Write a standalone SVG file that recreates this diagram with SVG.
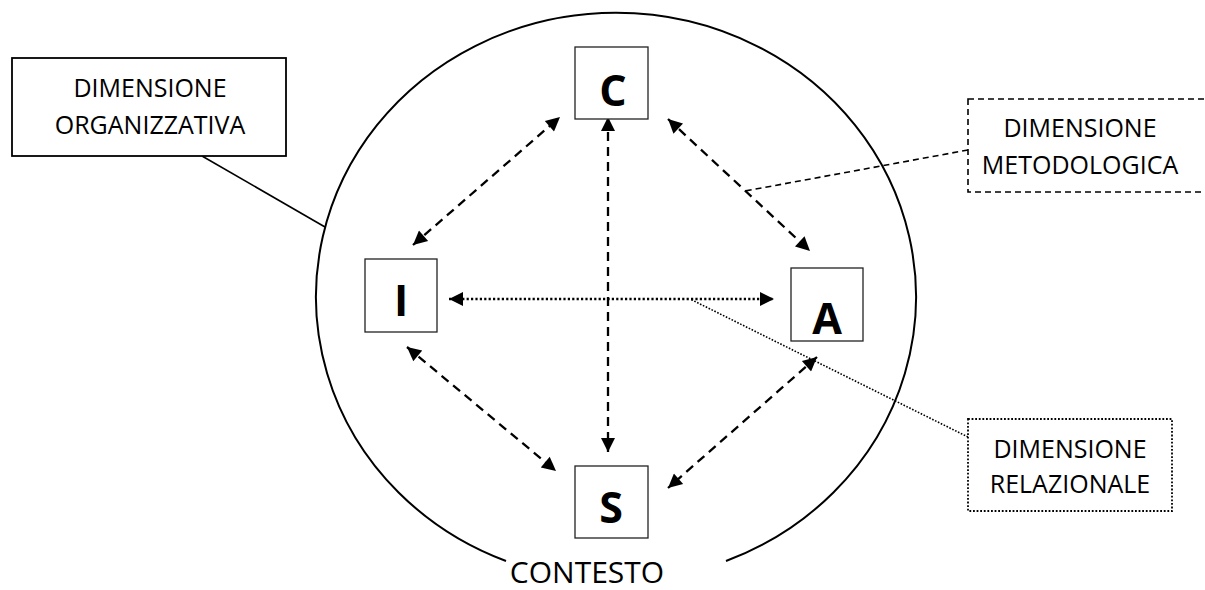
<svg xmlns="http://www.w3.org/2000/svg" width="1205" height="590" viewBox="0 0 1205 590">
<defs>
<marker id="ah" viewBox="0 0 10 10" refX="10" refY="5" markerUnits="userSpaceOnUse" markerWidth="16" markerHeight="14" orient="auto-start-reverse">
<path d="M0,0 L10,5 L0,10 z" fill="#000"/>
</marker>
<style>
.node rect{fill:#fff;stroke:#222;stroke-width:1.3}
.node text{font-family:"Open Sans","Noto Sans",sans-serif;font-weight:bold;font-size:43px;text-anchor:middle;fill:#000}
.lbl text{font-family:"Open Sans","Noto Sans",sans-serif;font-size:25px;text-anchor:middle;fill:#000}
.dash{stroke:#000;stroke-width:2.3;stroke-dasharray:9 6;fill:none}
.dot{stroke:#000;stroke-width:2.6;stroke-dasharray:2.2 2.2;fill:none}
</style>
</defs>
<rect width="1205" height="590" fill="#fff"/>
<g id="context">
<path d="M 726 561 A 300 284 0 1 0 506 561" fill="none" stroke="#000" stroke-width="2"/>
<text x="587" y="583" font-family="'Open Sans','Noto Sans',sans-serif" font-size="30" text-anchor="middle">CONTESTO</text>
</g>
<g id="connectors">
<line class="dash" x1="413" y1="245" x2="560" y2="117" marker-start="url(#ah)" marker-end="url(#ah)"/>
<line class="dash" x1="608" y1="117" x2="608" y2="452" marker-start="url(#ah)" marker-end="url(#ah)"/>
<line class="dash" x1="668" y1="119" x2="810" y2="251" marker-start="url(#ah)" marker-end="url(#ah)"/>
<line class="dot" x1="449" y1="299" x2="774" y2="299" marker-start="url(#ah)" marker-end="url(#ah)"/>
<line class="dash" x1="407" y1="347" x2="556" y2="471" marker-start="url(#ah)" marker-end="url(#ah)"/>
<line class="dash" x1="817" y1="357" x2="668" y2="488" marker-start="url(#ah)" marker-end="url(#ah)"/>
<line x1="202" y1="156" x2="325" y2="227" stroke="#000" stroke-width="1.6"/>
<line x1="968" y1="150" x2="745" y2="191" stroke="#000" stroke-width="1.6" stroke-dasharray="6 4"/>
<line x1="968" y1="437" x2="690" y2="299" stroke="#000" stroke-width="1.6" stroke-dasharray="1.6 1.6"/>
</g>
<g id="node-C" class="node"><rect x="575" y="47" width="73" height="72"/><text x="613" y="106">C</text></g>
<g id="node-I" class="node"><rect x="365" y="259" width="72" height="73"/><text x="401" y="316" font-size="50">I</text></g>
<g id="node-A" class="node"><rect x="791" y="268" width="72" height="73"/><text x="827" y="334">A</text></g>
<g id="node-S" class="node"><rect x="575" y="466" width="73" height="72"/><text x="611" y="523">S</text></g>
<g id="label-organizzativa" class="lbl">
<rect x="12" y="58" width="274" height="98" fill="#fff" stroke="#000" stroke-width="1.8"/>
<text x="150" y="97">DIMENSIONE</text>
<text x="150" y="134">ORGANIZZATIVA</text>
</g>
<g id="label-metodologica" class="lbl">
<rect x="968" y="99" width="250" height="93" fill="#fff" stroke="#000" stroke-width="1.6" stroke-dasharray="6 4"/>
<text x="1080" y="137">DIMENSIONE</text>
<text x="1080" y="174">METODOLOGICA</text>
</g>
<g id="label-relazionale" class="lbl">
<rect x="968" y="419" width="204" height="92" fill="#fff" stroke="#000" stroke-width="1.8" stroke-dasharray="1.8 1.8"/>
<text x="1070" y="458">DIMENSIONE</text>
<text x="1070" y="493">RELAZIONALE</text>
</g>
</svg>
